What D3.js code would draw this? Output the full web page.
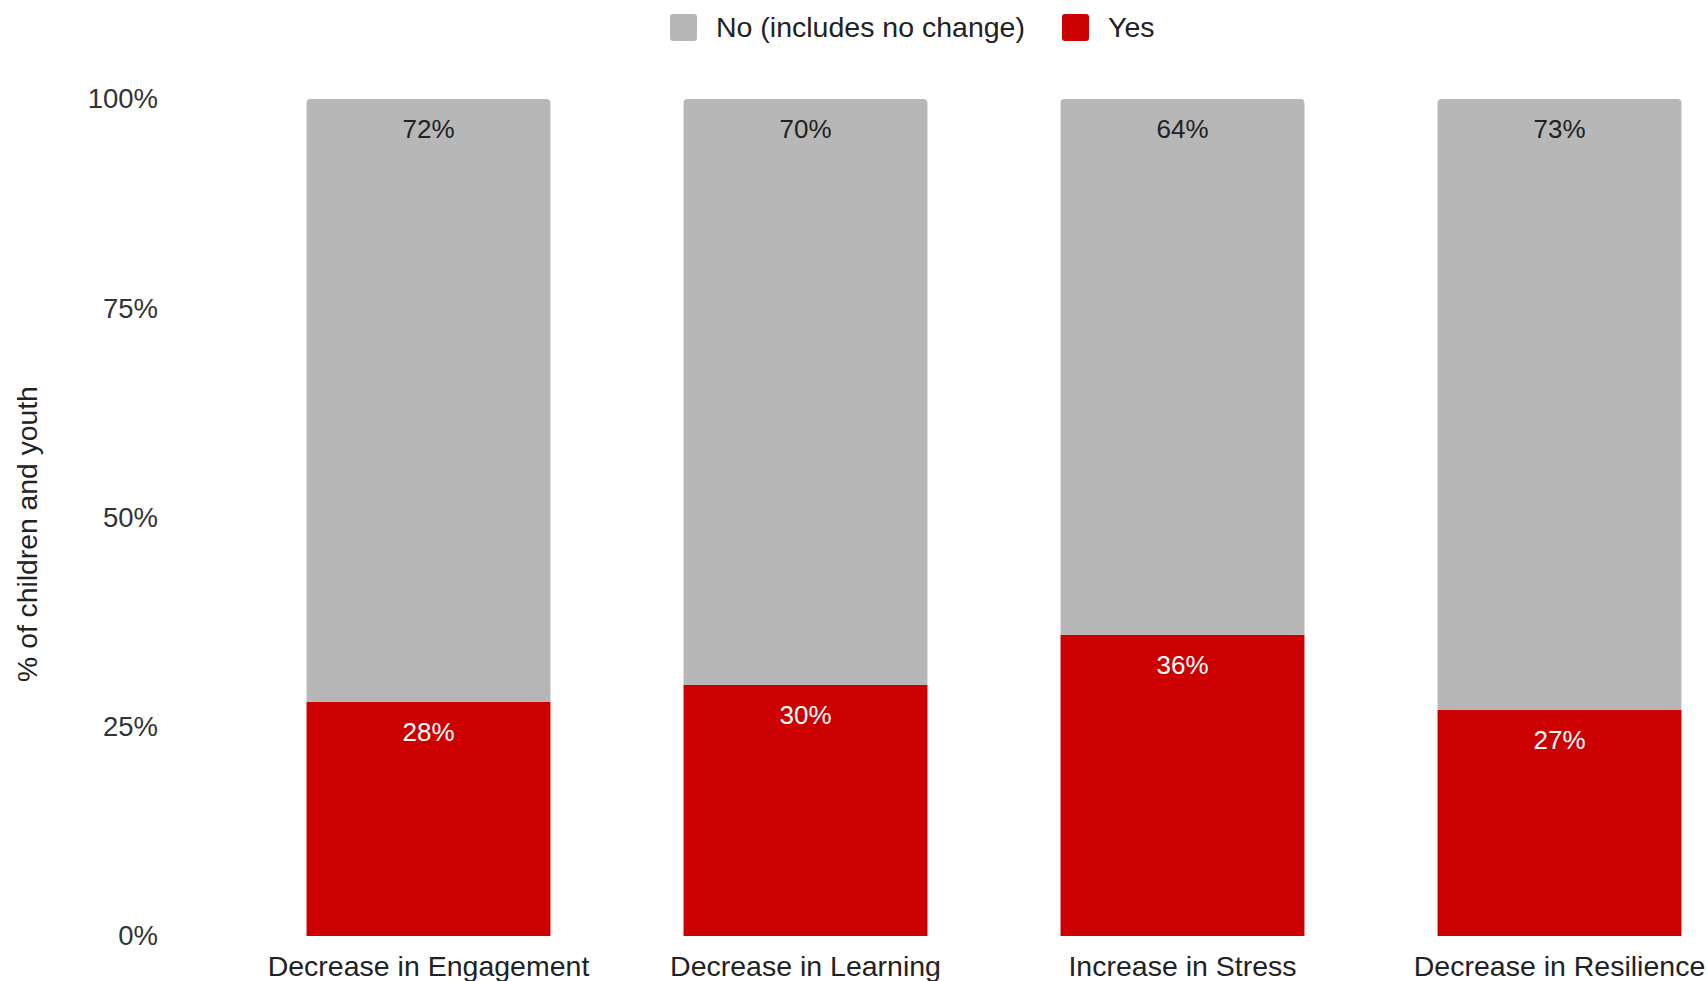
<!DOCTYPE html>
<html>
<head>
<meta charset="utf-8">
<script src="https://cdn.jsdelivr.net/npm/d3@7"></script>
<style>
  html, body { margin: 0; padding: 0; background: #ffffff; }
  svg { display: block; font-family: "Liberation Sans", Arial, sans-serif; }
</style>
</head>
<body>
<svg id="chart" width="1708" height="981"></svg>
<script>
// Survey outcome categories
const categories = ["Decrease in Engagement", "Decrease in Learning", "Increase in Stress", "Decrease in Resilience"];
// Share answering "Yes" (%)
const yesValues = [28, 30, 36, 27];
// Share answering "No (includes no change)" (%)
const noValues = [72, 70, 64, 73];
const seriesNames = ["No (includes no change)", "Yes"];
const yTicks = [0, 25, 50, 75, 100];

const colors = { no: "#b7b7b7", yes: "#cc0000" };

const svg = d3.select("#chart");

const x = d3.scaleBand()
  .domain(categories)
  .range([240, 1748])
  .paddingInner(0.353)
  .paddingOuter(0.1765);

const y = d3.scaleLinear().domain([0, 100]).range([936, 99]);

// y tick labels (no axis line / gridlines)
const yAxis = d3.axisLeft(y)
  .tickValues(yTicks)
  .tickFormat(d => d + "%")
  .tickSize(0)
  .tickPadding(0);
const gy = svg.append("g").attr("transform", "translate(158,0)").call(yAxis);
gy.select(".domain").remove();
gy.selectAll("text")
  .attr("font-size", 27.5)
  .attr("fill", "#333")
  .attr("font-family", "Liberation Sans, Arial, sans-serif");

// y axis title
svg.append("text")
  .attr("transform", "translate(37,534) rotate(-90)")
  .attr("text-anchor", "middle")
  .attr("font-size", 28.3)
  .attr("fill", "#222")
  .text("% of children and youth");

// x category labels
const xAxis = d3.axisBottom(x).tickSize(0).tickPadding(0);
const gx = svg.append("g").attr("transform", "translate(0,956)").call(xAxis);
gx.select(".domain").remove();
gx.selectAll("text")
  .attr("font-size", 28.5)
  .attr("fill", "#222")
  .attr("dy", "0.71em")
  .attr("font-family", "Liberation Sans, Arial, sans-serif");

const rows = categories.map((c, i) => ({ cat: c, yes: yesValues[i], no: noValues[i] }));

// path for a rect with only the top corners rounded
function topRounded(x0, y0, w, h, r) {
  return `M${x0},${y0 + h}V${y0 + r}Q${x0},${y0} ${x0 + r},${y0}H${x0 + w - r}Q${x0 + w},${y0} ${x0 + w},${y0 + r}V${y0 + h}Z`;
}

const bars = svg.append("g");
// Yes segment (bottom)
bars.selectAll("rect.yes").data(rows).join("rect")
  .attr("class", "yes")
  .attr("x", d => x(d.cat))
  .attr("width", x.bandwidth())
  .attr("y", d => y(d.yes))
  .attr("height", d => y(0) - y(d.yes))
  .attr("fill", colors.yes);
// No segment (stacked on top)
bars.selectAll("path.no").data(rows).join("path")
  .attr("class", "no")
  .attr("d", d => topRounded(x(d.cat), y(d.yes + d.no), x.bandwidth(), y(d.yes) - y(d.yes + d.no), 4))
  .attr("fill", colors.no);

// value labels
const labels = svg.append("g").attr("font-size", 26).attr("text-anchor", "middle");
labels.selectAll("text.no").data(rows).join("text")
  .attr("x", d => x(d.cat) + x.bandwidth() / 2)
  .attr("y", d => y(d.yes + d.no) + 39)
  .attr("fill", "#222")
  .text(d => d.no + "%");
labels.selectAll("text.yes").data(rows).join("text")
  .attr("x", d => x(d.cat) + x.bandwidth() / 2)
  .attr("y", d => y(d.yes) + 39)
  .attr("fill", "#ffffff")
  .text(d => d.yes + "%");

// legend
const legend = svg.append("g");
const legendItems = [
  { name: seriesNames[0], color: colors.no, x: 670 },
  { name: seriesNames[1], color: colors.yes, x: 1062 }
];
legendItems.forEach(it => {
  legend.append("rect")
    .attr("x", it.x).attr("y", 14)
    .attr("width", 27).attr("height", 27)
    .attr("rx", 3)
    .attr("fill", it.color);
  legend.append("text")
    .attr("x", it.x + 46).attr("y", 37)
    .attr("font-size", 28.5)
    .attr("fill", "#222")
    .text(it.name);
});
</script>
</body>
</html>
